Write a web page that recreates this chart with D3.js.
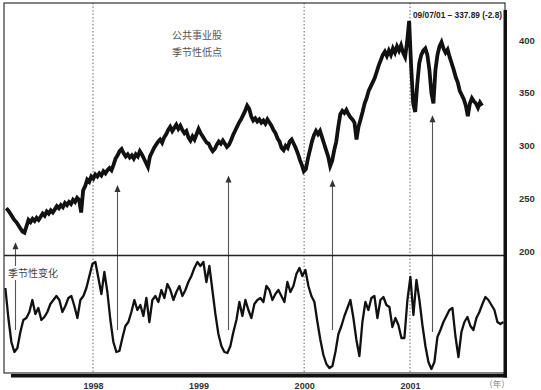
<!DOCTYPE html>
<html><head><meta charset="utf-8">
<script src="https://cdn.jsdelivr.net/npm/d3@7"></script>
<style>html,body{margin:0;padding:0;background:#fff;}svg{display:block;}</style>
</head><body>
<script>
// ---- data ----
const priceStart = "1997-03-07";          // weekly closes, Fridays
const priceValues = [
241,239,236,233,230,228,225,222,219,218,
224,230,228,231,229,232,230,233,236,234,
238,236,239,237,240,243,241,244,242,246,
244,247,245,249,247,251,249,237,
258,262,268,266,271,269,273,271,274,272,276,
274,277,279,277,282,288,291,295,297,293,
290,292,289,291,288,292,290,295,292,288,
284,280,290,294,298,301,304,306,303,308,
311,315,318,314,317,320,316,319,315,312,
314,308,305,309,306,311,
316,312,309,
306,303,302,298,295,297,301,304,302,305,
302,299,301,305,310,314,318,322,325,329,
333,338,335,328,324,326,323,325,322,324,
321,325,322,319,315,312,307,304,298,296,
300,298,304,306,302,298,293,287,282,276,
278,288,296,304,310,314,311,314,308,302,
296,290,281,286,
296,304,318,330,333,
331,334,330,327,325,322,306,318,325,332,
340,345,352,356,360,364,370,376,381,386,
389,385,390,386,392,388,394,390,395,388,
384,398,418,375,340,332,358,378,386,390,
392,386,372,350,340,372,386,394,398,392,
388,391,384,378,372,365,360,352,348,344,
338,328,340,345,342,340,336,341,337.89
];
const seasonalStart = "1997-03-04";
const seasonalEnd = "2001-11-20";
const seasonalValues = [
82,52,28,18,22,38,50,52,58,70,
56,62,50,53,58,66,70,74,70,58,
64,72,74,64,52,70,74,82,94,106,
108,92,76,98,78,50,28,18,19,32,
44,48,58,70,60,65,54,72,48,70,
74,68,80,72,86,80,70,78,84,74,
80,88,94,102,108,104,108,88,104,80,
56,36,24,18,17,24,38,50,68,54,
70,60,52,66,70,72,68,84,80,70,
76,80,74,68,88,78,84,96,102,94,
100,84,74,68,48,30,15,6,2,4,
18,36,44,54,62,70,52,30,14,48,
68,60,72,74,52,70,73,65,63,43,
52,45,32,32,70,93,55,90,70,45,
24,8,1,8,33,40,48,54,60,62,
34,13,38,48,53,44,40,52,58,66,
73,70,65,60,48,46,48
];
const yearLabels = ["1998", "1999", "2000", "2001"];
const dashedYears = ["1998", "2000", "2001"];
const priceTicks = [200, 250, 300, 350, 400];
const lowDates = ["1997-04-06", "1998-03-25", "1999-04-12", "2000-04-05", "2001-03-17"];
const lowTipPrice = [209, 263, 272, 268, 329];
const lowBaseSeasonal = [40, 40, 40, 40, 38];
const titleLines = ["公共事业股", "季节性低点"];
const panelLabel = "季节性变化";
const lastNote = "09/07/01 – 337.89 (-2.8)";
const unitLabel = "（年）";

// ---- build ----
const W = 541, H = 390;
const parse = d3.timeParse("%Y-%m-%d");
const svg = d3.select("body").append("svg").attr("width", W).attr("height", H);
svg.append("rect").attr("width", W).attr("height", H).attr("fill", "#fff");

const x = d3.scaleTime()
  .domain([new Date(1998, 0, 1), new Date(2001, 0, 1)])
  .range([93, 410]);
const yP = d3.scaleLinear().domain([200, 400]).range([251.7, 40]);
const yS = d3.scaleLinear().domain([0, 115]).range([370, 255]);

const frame = {l: 4, t: 3, r: 505, b: 373, mid: 255.5};

const p0 = parse(priceStart);
const price = priceValues.map((v, i) => ({d: d3.timeDay.offset(p0, 7 * i), v}));
const s0 = parse(seasonalStart).getTime(), s1 = parse(seasonalEnd).getTime();
const seasonal = seasonalValues.map((v, i) => ({
  d: new Date(s0 + (s1 - s0) * i / (seasonalValues.length - 1)), v}));

// dashed year lines
svg.append("g").selectAll("line").data(dashedYears).join("line")
  .attr("x1", d => x(new Date(+d, 0, 1))).attr("x2", d => x(new Date(+d, 0, 1)))
  .attr("y1", frame.t).attr("y2", frame.b)
  .attr("stroke", "#666").attr("stroke-width", 1).attr("stroke-dasharray", "1.5,2");

// arrows
const arrowG = svg.append("g");
lowDates.forEach((ds, i) => {
  const xx = Math.round(x(parse(ds))) + 0.5;
  const yt = yP(lowTipPrice[i]);
  const yb = yS(lowBaseSeasonal[i]);
  arrowG.append("line").attr("x1", xx).attr("x2", xx).attr("y1", yt + 5).attr("y2", yb)
    .attr("stroke", "#555").attr("stroke-width", 1.1);
  arrowG.append("path")
    .attr("d", `M${xx},${yt} L${xx - 3},${yt + 7} L${xx + 3},${yt + 7} Z`)
    .attr("fill", "#333");
});

// divider
svg.append("line").attr("x1", frame.l).attr("x2", frame.r)
  .attr("y1", frame.mid).attr("y2", frame.mid)
  .attr("stroke", "#222").attr("stroke-width", 1.6);

// price line
svg.append("path").datum(price)
  .attr("d", d3.line().x(d => x(d.d)).y(d => yP(d.v)))
  .attr("fill", "none").attr("stroke", "#111").attr("stroke-width", 3.8)
  .attr("stroke-linejoin", "miter");

// seasonal line
svg.append("path").datum(seasonal)
  .attr("d", d3.line().x(d => x(d.d)).y(d => yS(d.v)))
  .attr("fill", "none").attr("stroke", "#111").attr("stroke-width", 2.3)
  .attr("stroke-linejoin", "round");

// frame + shadow
svg.append("rect").attr("x", frame.l).attr("y", frame.t)
  .attr("width", frame.r - frame.l).attr("height", frame.b - frame.t)
  .attr("fill", "none").attr("stroke", "#333").attr("stroke-width", 1.2);
svg.append("rect").attr("x", frame.r - 1.5).attr("y", 10).attr("width", 3.5).attr("height", 367.5).attr("fill", "#111");
svg.append("rect").attr("x", 11).attr("y", 374).attr("width", frame.r + 2 - 11).attr("height", 3.5).attr("fill", "#111");

// right axis
const ax = svg.append("g").attr("transform", "translate(519,0)")
  .call(d3.axisRight(yP).tickValues(priceTicks).tickSize(0).tickPadding(0).tickFormat(d3.format("d")));
ax.select(".domain").remove();
ax.selectAll("text").attr("font-family", "Liberation Sans, Arial, sans-serif")
  .attr("font-size", 9.5).attr("font-weight", "bold").attr("fill", "#333");

// bottom axis
const bx = svg.append("g").attr("transform", "translate(0,376)")
  .call(d3.axisBottom(x).tickValues(yearLabels.map(y => new Date(+y, 0, 1)))
    .tickSize(0).tickPadding(6.5).tickFormat(d3.timeFormat("%Y")));
bx.select(".domain").remove();
bx.selectAll("text").attr("font-family", "Liberation Sans, Arial, sans-serif")
  .attr("font-size", 9).attr("font-weight", "bold").attr("fill", "#333");

svg.append("text").attr("x", 497).attr("y", 387).attr("text-anchor", "middle")
  .attr("font-family", "Noto Sans CJK SC").attr("font-size", 8.5).attr("fill", "#888")
  .text(unitLabel);

// titles
svg.append("g").selectAll("text").data(titleLines).join("text")
  .attr("x", 172).attr("y", (d, i) => 38.5 + i * 17)
  .attr("font-family", "Noto Sans CJK SC").attr("font-size", 10).attr("fill", "#555")
  .text(d => d);

// panel label with white backing
svg.append("rect").attr("x", 7).attr("y", 266).attr("width", 52).attr("height", 14).attr("fill", "#fff");
svg.append("text").attr("x", 8).attr("y", 277)
  .attr("font-family", "Noto Sans CJK SC").attr("font-size", 10).attr("fill", "#444")
  .text(panelLabel);

// last value note
svg.append("text").attr("x", 413).attr("y", 18)
  .attr("font-family", "Liberation Sans, Arial, sans-serif").attr("font-size", 8.3)
  .attr("font-weight", "bold").attr("fill", "#222").text(lastNote);
</script>
</body></html>
